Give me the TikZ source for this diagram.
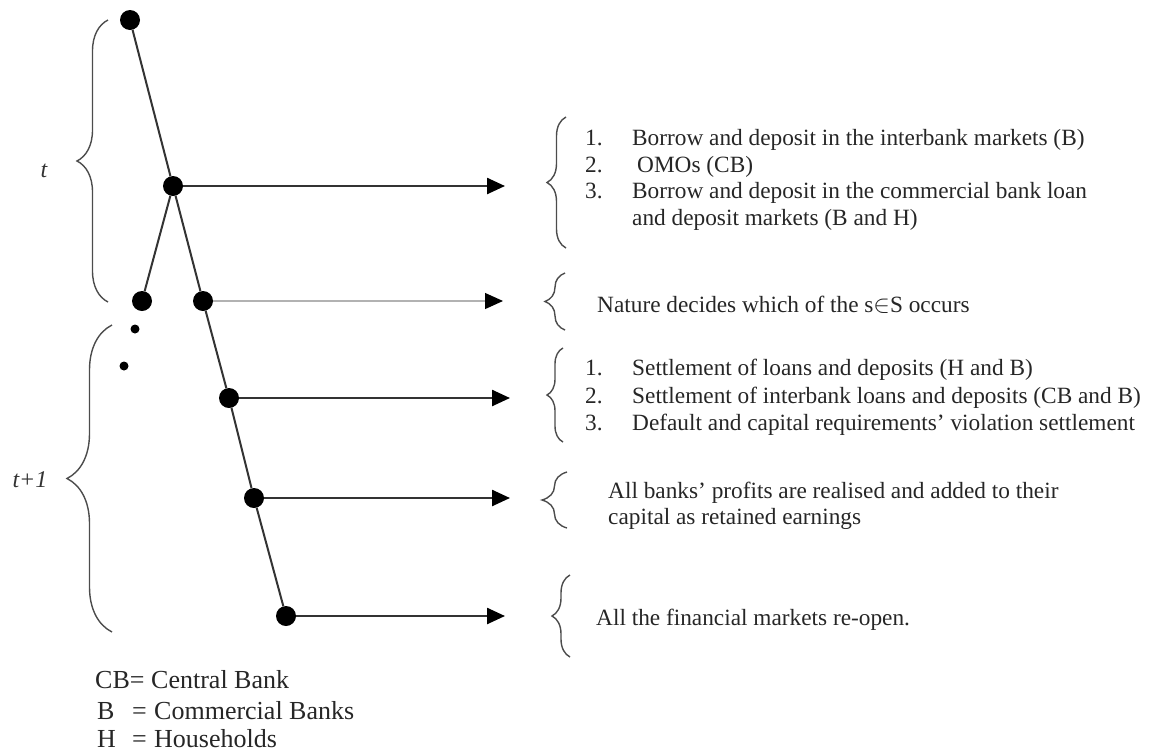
\documentclass[tikz,border=0pt]{standalone}
\usepackage{fontspec}
\setmainfont{Liberation Serif}
\usetikzlibrary{arrows.meta,decorations.pathreplacing}
\begin{document}
\begin{tikzpicture}[x=1pt,y=-1pt,
 dot/.style={circle,fill=black,inner sep=0pt,minimum size=20pt},
 sdot/.style={circle,fill=black,inner sep=0pt,minimum size=9pt},
 tree/.style={draw=black!80,line width=2pt},
 arr/.style={draw=black!80,line width=2.5pt,-{Triangle[length=18pt,width=16pt,color=black]}},
 darr/.style={draw=black!30,line width=1.2pt,-{Triangle[length=18pt,width=16pt,color=black]}},
 brc/.style={draw=black!70,line width=1.4pt,decorate,decoration={brace,amplitude=#1}},
 txt/.style={anchor=base west,inner sep=0pt,font=\fontsize{23.3}{27}\selectfont,text=black!85},
 leg/.style={anchor=base west,inner sep=0pt,font=\fontsize{26}{30}\selectfont,text=black!85},
 lab/.style={inner sep=0pt,font=\fontsize{24}{28}\selectfont\itshape,text=black!80}]
\useasboundingbox (0,0) rectangle (1151,753);

% tree nodes
\node[dot] (n1) at (130,20) {};
\node[dot] (n2) at (173,186) {};
\node[dot] (nl) at (142,301) {};
\node[dot] (n3) at (203,301) {};
\node[sdot] (s1) at (135,329) {};
\node[sdot] (s2) at (124,366) {};
\node[dot] (n4) at (229,398) {};
\node[dot] (n5) at (254,498) {};
\node[dot] (n6) at (286,616) {};

\draw[tree] (n1) -- (n2);
\draw[tree] (n2) -- (nl);
\draw[tree] (n2) -- (n3);
\draw[tree] (n3) -- (n4);
\draw[tree] (n4) -- (n5);
\draw[tree] (n5) -- (n6);

% arrows
\coordinate (e1) at (505,186);
\coordinate (e2) at (503,301);
\coordinate (e3) at (510,398);
\coordinate (e4) at (510,498);
\coordinate (e5) at (505,616);
\draw[arr] (n2) -- (e1);
\draw[darr] (n3) -- (e2);
\draw[arr] (n4) -- (e3);
\draw[arr] (n5) -- (e4);
\draw[arr] (n6) -- (e5);

% left braces
\draw[brc=31pt] (108,302) -- (108,20);
\draw[brc=45pt] (112,632) -- (112,325);
\node[lab] (tl) at (44,171) {t};
\node[lab] (t1l) at (30,480) {t+1};

% right braces
\draw[brc=19pt] (566,248) -- (566,117);
\draw[brc=20pt] (565,330) -- (565,273);
\draw[brc=16pt] (563,442) -- (563,348);
\draw[brc=25pt] (567,528) -- (567,472);
\draw[brc=18pt] (570,657) -- (570,575);

% block 1
\node[txt] (a1n) at (585,145) {1.};
\node[txt] (a1t) at (632,145) {Borrow and deposit in the interbank markets (B)};
\node[txt] (a2n) at (585,172) {2.};
\node[txt] (a2t) at (637,172) {OMOs (CB)};
\node[txt] (a3n) at (585,198) {3.};
\node[txt] (a3t) at (632,198) {Borrow and deposit in the commercial bank loan};
\node[txt] (a4t) at (632,225) {and deposit markets (B and H)};

% block 2
\node[txt] (nat) at (597,312) {Nature decides which of the s$\in$S occurs};

% block 3
\node[txt] (b1n) at (585,375) {1.};
\node[txt] (b1t) at (632,375) {Settlement of loans and deposits (H and B)};
\node[txt] (b2n) at (585,403) {2.};
\node[txt] (b2t) at (632,403) {Settlement of interbank loans and deposits (CB and B)};
\node[txt] (b3n) at (585,430) {3.};
\node[txt] (b3t) at (632,430) {Default and capital requirements’ violation settlement};

% block 4
\node[txt] (c1) at (608,498) {All banks’ profits are realised and added to their};
\node[txt] (c2) at (608,524) {capital as retained earnings};

% block 5
\node[txt] (d1) at (596,625) {All the financial markets re-open.};

% legend
\node[leg] (k1) at (95,688) {CB=};
\node[leg] (v1) at (151,688) {Central Bank};
\node[leg] (k2) at (97,719) {B};
\node[leg] (q2) at (132,719) {=};
\node[leg] (v2) at (154,719) {Commercial Banks};
\node[leg] (k3) at (97,747) {H};
\node[leg] (q3) at (132,747) {=};
\node[leg] (v3) at (154,747) {Households};
\end{tikzpicture}
\end{document}
